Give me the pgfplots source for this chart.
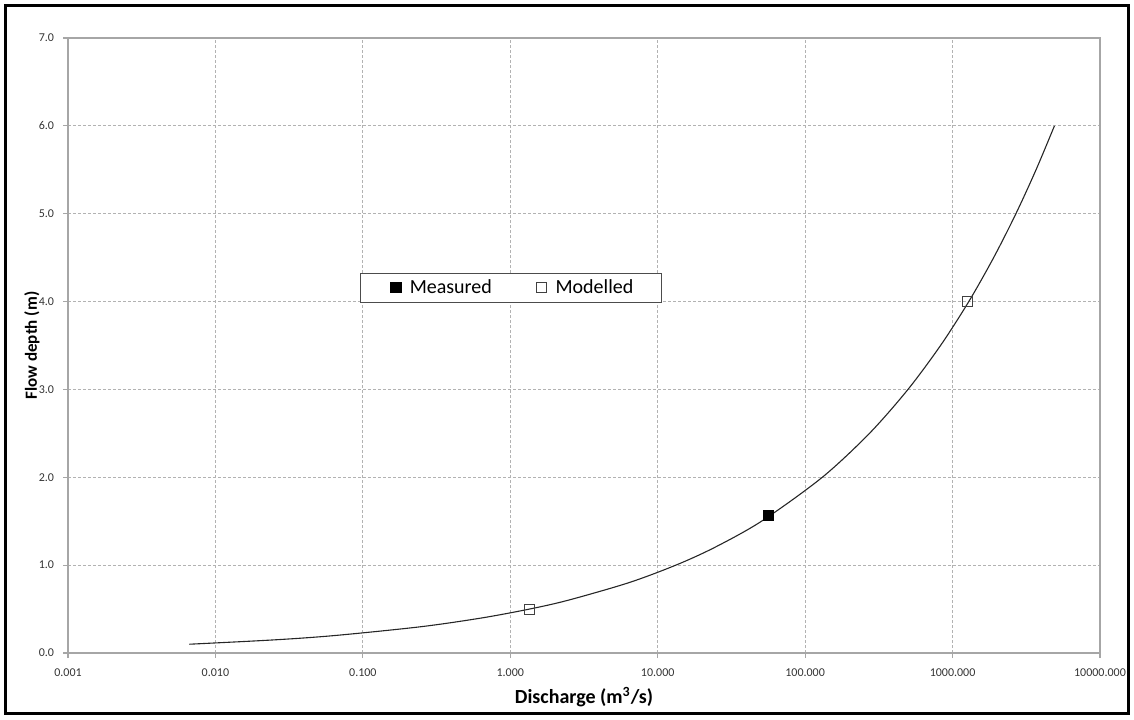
\documentclass[border=0pt]{standalone}
\usepackage{pgfplots}
\pgfplotsset{compat=1.18}
\usepackage{fontspec}
\setmainfont{Carlito}
\begin{document}
\begin{tikzpicture}
\path (-34pt,-33pt) rectangle (533pt,326.5pt);
\draw[line width=1.5pt] (-31.25pt,-30.25pt) rectangle (530.25pt,323.75pt);
\begin{axis}[
  at={(0pt,0pt)}, anchor=south west,
  scale only axis, width=516pt, height=307.5pt,
  xmode=log, log basis x=10,
  xmin=0.001, xmax=10000, ymin=0, ymax=7,
  xtick={0.001,0.01,0.1,1,10,100,1000,10000},
  xticklabels={0.001,0.010,0.100,1.000,10.000,100.000,1000.000,10000.000},
  ytick={0,1,2,3,4,5,6,7},
  minor xtick={},
  xtick pos=bottom, ytick pos=left,
  /pgf/number format/assume math mode=true,
  yticklabel={\pgfmathprintnumber[fixed,fixed zerofill,precision=1]{\tick}},
  ticklabel style={font=\fontsize{6}{7}\selectfont, text=black!80},
  xticklabel style={yshift=-2pt},
  yticklabel style={xshift=-1pt},
  tick align=outside, major tick length=2.5pt,
  tick style={gray!70, line width=0.6pt},
  axis line style={gray!70, line width=0.8pt},
  grid=major,
  major grid style={gray!60, dash pattern=on 1.5pt off 1pt, line width=0.5pt},
  xlabel={Discharge (m\textsuperscript{3}/s)},
  ylabel={Flow depth (m)},
  xlabel style={font=\fontsize{10}{12}\selectfont\bfseries, at={(axis description cs:0.5,0)}, anchor=center, yshift=-22pt},
  ylabel style={font=\fontsize{8.5}{10}\selectfont\bfseries, at={(axis description cs:0,0.5)}, anchor=center, yshift=18pt},
  legend columns=2,
  legend style={at={(rel axis cs:0.429,0.594)}, anchor=center, draw=gray!60!black, line width=0.6pt,
    font=\fontsize{10}{12}\selectfont, inner xsep=12pt, inner ysep=1pt,
    /tikz/every even column/.append style={column sep=17pt}},
  legend image code/.code={\path (0cm,0cm) (0.36cm,0cm); \draw[#1] plot coordinates {(0.2cm,0cm)};},
]
\addplot[black!85, line width=0.55pt, smooth, forget plot] coordinates {
(0.00665,0.1) (0.02535,0.15) (0.06553,0.2) (0.2497,0.3) (0.6453,0.4) (1.348,0.5)
(2.460,0.6) (6.358,0.8) (13.27,1.0) (24.23,1.2) (50.6,1.5) (130.7,2.0) (273.1,2.5)
(498.3,3.0) (828.6,3.5) (1288,4.0) (1899,4.5) (2689,5.0) (3683,5.5) (4909,6.0)
};
\addplot[only marks, mark=square*, mark size=2.5pt, mark options={fill=black, draw=black}] coordinates {
(56.5,1.57)
};
\addlegendentry{Measured}
\addplot[only marks, mark=square, mark size=2.5pt, mark options={draw=black!75, fill=white, line width=0.5pt}] coordinates {
(1.35,0.5) (1260,4.0)
};
\addlegendentry{Modelled}
\end{axis}
\end{tikzpicture}
\end{document}
